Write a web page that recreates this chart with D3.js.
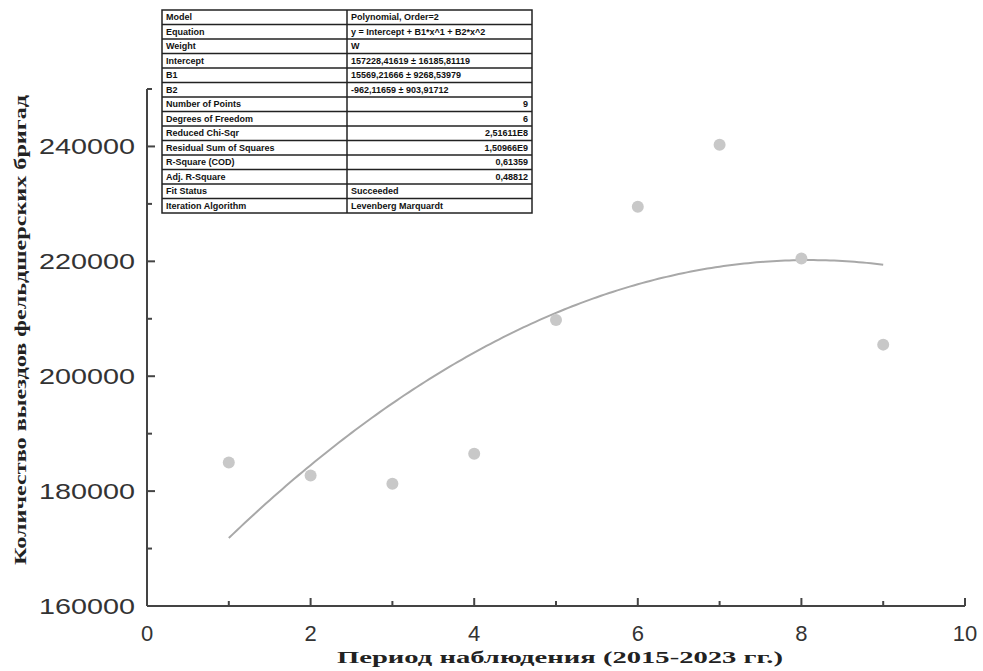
<!DOCTYPE html>
<html><head><meta charset="utf-8">
<script src="https://cdn.jsdelivr.net/npm/d3@7/dist/d3.min.js"></script>
<style>body{margin:0;background:#fff}svg{display:block}</style>
</head><body>
<svg id="c" width="983" height="671"></svg>
<script>
const xValues = [1, 2, 3, 4, 5, 6, 7, 8, 9];
const yValues = [185000, 182700, 181300, 186500, 209800, 229500, 240300, 220500, 205500];
const fitCoefs = [157228.4, 15569.2, -962.1]; // Intercept, B1, B2
const xTicks = [0, 2, 4, 6, 8, 10];
const yTicks = [160000, 180000, 200000, 220000, 240000];
const tableLabels = ["Model","Equation","Weight","Intercept","B1","B2","Number of Points","Degrees of Freedom","Reduced Chi-Sqr","Residual Sum of Squares","R-Square (COD)","Adj. R-Square","Fit Status","Iteration Algorithm"];
const tableValues = ["Polynomial, Order=2","y = Intercept + B1*x^1 + B2*x^2","W","157228,41619 ± 16185,81119","15569,21666 ± 9268,53979","-962,11659 ± 903,91712","9","6","2,51611E8","1,50966E9","0,61359","0,48812","Succeeded","Levenberg Marquardt"];
const tableRightAlign = [false,false,false,false,false,false,true,true,true,true,true,true,false,false];

const svg = d3.select("#c");
const x = d3.scaleLinear().domain([0, 10]).range([147, 965]);
const y = d3.scaleLinear().domain([160000, 250000]).range([606, 89]);
const axisColor = "#444";

// X axis
const gx = svg.append("g");
gx.append("line").attr("x1", x(0)).attr("x2", x(10)).attr("y1", y(160000)).attr("y2", y(160000))
  .attr("stroke", axisColor).attr("stroke-width", 2);
d3.range(0, 11, 1).forEach(v => {
  const major = v % 2 === 0;
  gx.append("line").attr("x1", x(v)).attr("x2", x(v)).attr("y1", y(160000)).attr("y2", y(160000) - (major ? 8 : 5))
    .attr("stroke", axisColor).attr("stroke-width", 2);
});
xTicks.forEach(v => {
  gx.append("text").attr("x", x(v)).attr("y", 641).attr("text-anchor", "middle")
    .attr("font-family", "Liberation Sans, Arial").attr("font-size", 22).attr("fill", "#333").text(v);
});
// Y axis
const gy = svg.append("g");
gy.append("line").attr("x1", x(0)).attr("x2", x(0)).attr("y1", y(160000)).attr("y2", y(250000))
  .attr("stroke", axisColor).attr("stroke-width", 2);
d3.range(160000, 250001, 10000).forEach(v => {
  const major = v % 20000 === 0;
  gy.append("line").attr("x1", x(0)).attr("x2", x(0) + (major ? 8 : 5)).attr("y1", y(v)).attr("y2", y(v))
    .attr("stroke", axisColor).attr("stroke-width", 2);
});
yTicks.forEach(v => {
  gy.append("text").attr("x", 135).attr("y", y(v) + 8).attr("text-anchor", "end")
    .attr("font-family", "Liberation Sans, Arial").attr("font-size", 22).attr("fill", "#333")
    .attr("textLength", 96).attr("lengthAdjust", "spacingAndGlyphs").text(v);
});

// Axis titles
svg.append("text").attr("x", 560).attr("y", 663).attr("text-anchor", "middle")
  .attr("font-family", "Liberation Serif, Times New Roman").attr("font-weight", "bold").attr("font-size", 17)
  .attr("fill", "#222").attr("textLength", 446).attr("lengthAdjust", "spacingAndGlyphs")
  .text("Период наблюдения (2015-2023 гг.)");
svg.append("text").attr("transform", "translate(26,330) rotate(-90)").attr("text-anchor", "middle")
  .attr("font-family", "Liberation Serif, Times New Roman").attr("font-weight", "bold").attr("font-size", 17)
  .attr("fill", "#222").attr("textLength", 470).attr("lengthAdjust", "spacingAndGlyphs")
  .text("Количество выездов фельдшерских бригад");

// Fit curve
const fx = d3.range(1, 9.001, 0.05);
const line = d3.line().x(d => x(d)).y(d => y(fitCoefs[0] + fitCoefs[1]*d + fitCoefs[2]*d*d));
svg.append("path").datum(fx).attr("d", line).attr("fill", "none").attr("stroke", "#a8a8a8").attr("stroke-width", 2);

// Points
svg.append("g").selectAll("circle").data(xValues).join("circle")
  .attr("cx", (d) => x(d)).attr("cy", (d, i) => y(yValues[i])).attr("r", 6).attr("fill", "#c8c8c8");

// Table
const tx0 = 162, tx1 = 347, tx2 = 532, ty0 = 10, rowH = 14.5;
const tg = svg.append("g");
tg.append("rect").attr("x", tx0).attr("y", ty0).attr("width", tx2 - tx0).attr("height", rowH * tableLabels.length)
  .attr("fill", "#fff").attr("stroke", "#222").attr("stroke-width", 1.5);
tg.append("line").attr("x1", tx1).attr("x2", tx1).attr("y1", ty0).attr("y2", ty0 + rowH * tableLabels.length)
  .attr("stroke", "#222").attr("stroke-width", 1.5);
tableLabels.forEach((lab, i) => {
  if (i > 0) tg.append("line").attr("x1", tx0).attr("x2", tx2).attr("y1", ty0 + rowH * i).attr("y2", ty0 + rowH * i)
    .attr("stroke", "#222").attr("stroke-width", 1.5);
  tg.append("text").attr("x", tx0 + 4).attr("y", ty0 + rowH * i + 10).attr("font-family", "Liberation Sans, Arial")
    .attr("font-size", 9).attr("font-weight", "bold").attr("fill", "#111").text(lab);
  const r = tableRightAlign[i];
  tg.append("text").attr("x", r ? tx2 - 4 : tx1 + 4).attr("y", ty0 + rowH * i + 10).attr("text-anchor", r ? "end" : "start")
    .attr("font-family", "Liberation Sans, Arial").attr("font-size", 9).attr("font-weight", "bold").attr("fill", "#111")
    .text(tableValues[i]);
});
</script>
</body></html>
